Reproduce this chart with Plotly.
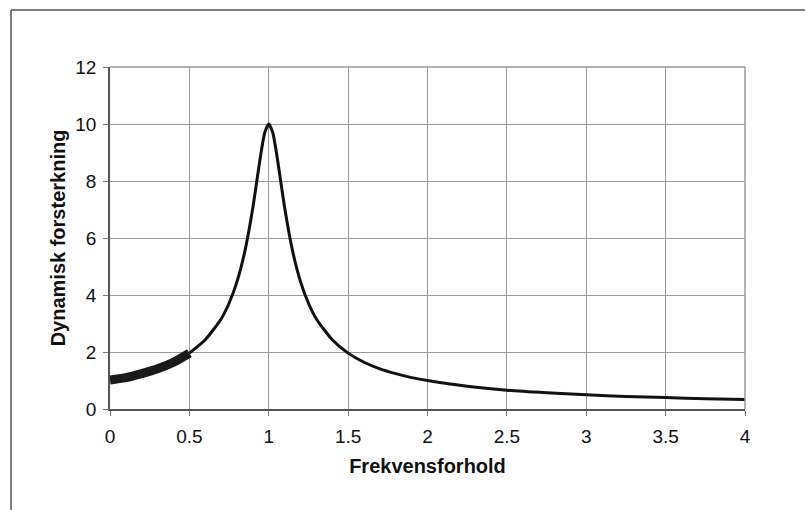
import plotly.graph_objects as go

# Thick low-frequency segment
r_low = [0.0, 0.1, 0.2, 0.3, 0.4, 0.5]
daf_low = [1.02, 1.1, 1.24, 1.41, 1.64, 1.96]

# Main curve
r_main = [0.5, 0.6, 0.7, 0.75, 0.8, 0.85, 0.9, 0.95, 0.975, 1.0, 1.025, 1.05,
          1.1, 1.15, 1.2, 1.25, 1.3, 1.4, 1.5, 1.6, 1.7, 1.8, 1.9, 2.0,
          2.25, 2.5, 2.75, 3.0, 3.25, 3.5, 3.75, 4.0]
daf_main = [1.96, 2.43, 3.16, 3.71, 4.47, 5.55, 7.07, 8.94, 9.7, 10.0, 9.7, 8.94,
            7.07, 5.55, 4.47, 3.71, 3.16, 2.43, 1.96, 1.64, 1.41, 1.24, 1.1, 1.0,
            0.8, 0.66, 0.57, 0.5, 0.44, 0.4, 0.36, 0.33]

x_ticks = [0, 0.5, 1, 1.5, 2, 2.5, 3, 3.5, 4]
x_tick_text = ["0", "0.5", "1", "1.5", "2", "2.5", "3", "3.5", "4"]
y_ticks = [0, 2, 4, 6, 8, 10, 12]

fig = go.Figure()
fig.add_trace(go.Scatter(x=r_main, y=daf_main, mode="lines",
                         line=dict(color="#111111", width=3, shape="spline", smoothing=0.6),
                         showlegend=False, hoverinfo="skip"))
fig.add_trace(go.Scatter(x=r_low, y=daf_low, mode="lines",
                         line=dict(color="#1a1a1a", width=9, shape="spline"),
                         showlegend=False, hoverinfo="skip"))

L, R, T, B = 110, 60, 67, 101
W, H = 805, 510
pw, ph = W - L - R, H - T - B

def px(xp):
    return (xp - L) / pw

def py(yp):
    return (H - B - yp) / ph

fig.update_layout(
    width=W, height=H,
    margin=dict(l=L, r=R, t=T, b=B),
    paper_bgcolor="white", plot_bgcolor="white",
    font=dict(family="Liberation Sans, Arial, sans-serif", color="#111111", size=19),
    xaxis=dict(range=[0, 4], tickvals=x_ticks, ticktext=x_tick_text,
               showgrid=True, gridcolor="#9a9a9a", gridwidth=1,
               showline=True, linecolor="#555555", linewidth=1.5, mirror=False,
               ticks="outside", ticklen=5, tickcolor="#777777",
               tickfont=dict(size=19), zeroline=False, ticklabelstandoff=4,
               title=dict(text="<b>Frekvensforhold</b>", font=dict(size=20), standoff=13)),
    yaxis=dict(range=[0, 12], tickvals=y_ticks,
               showgrid=True, gridcolor="#9a9a9a", gridwidth=1,
               showline=True, linecolor="#555555", linewidth=1.5,
               ticks="outside", ticklen=5, tickcolor="#777777",
               tickfont=dict(size=19), zeroline=False, ticklabelstandoff=3,
               title=dict(text="<b>Dynamisk forsterkning</b>", font=dict(size=20), standoff=4)),
    shapes=[
        dict(type="line", xref="paper", yref="paper", x0=0, x1=1, y0=1, y1=1,
             line=dict(color="#999999", width=1.5)),
        dict(type="line", xref="paper", yref="paper", x0=1, x1=1, y0=0, y1=1,
             line=dict(color="#999999", width=1.5)),
        dict(type="line", xref="paper", yref="paper", x0=px(11), x1=px(11), y0=py(10), y1=py(512),
             line=dict(color="#555555", width=1.5)),
        dict(type="line", xref="paper", yref="paper", x0=px(11), x1=px(806), y0=py(10), y1=py(10),
             line=dict(color="#555555", width=1.5)),
    ],
)

fig.write_html("out.html")
